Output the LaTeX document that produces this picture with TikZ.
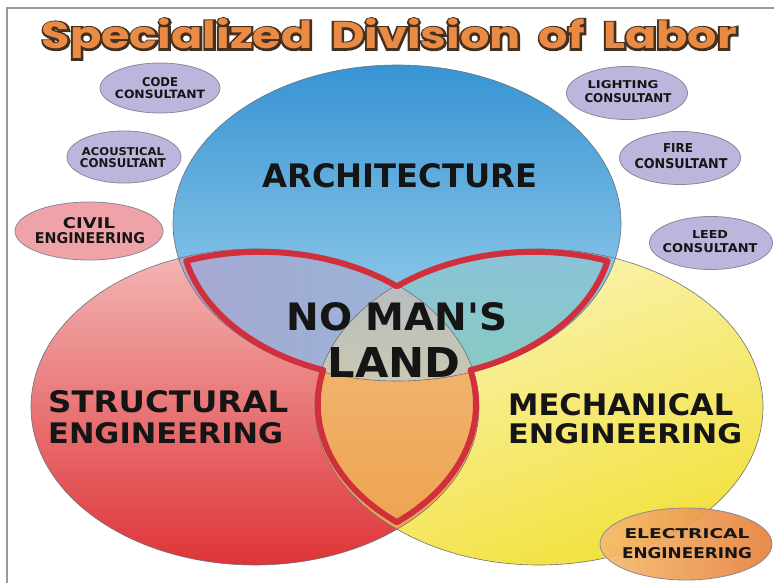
\documentclass[tikz,border=0pt]{standalone}
\usepackage{fontspec}
\usepackage{graphicx}
\usetikzlibrary{shapes.geometric}
\newfontfamily\lblfont{DejaVu Sans}
\newfontfamily\titlefont{Poppins}
\newfontfamily\titleoutline{Poppins}[BoldFeatures={FakeBold=10}]
\definecolor{framegray}{HTML}{9A9A9A}
\definecolor{bluetop}{HTML}{3794D3}
\definecolor{bluebot}{HTML}{A8D8F0}
\definecolor{redtop}{HTML}{F3B8B6}
\definecolor{redmid}{HTML}{EC8282}
\definecolor{redbot}{HTML}{DE3438}
\definecolor{yeltop}{HTML}{FBF4BC}
\definecolor{yelmid}{HTML}{F8EC84}
\definecolor{yelbot}{HTML}{F2E13C}
\definecolor{lavl}{HTML}{A8A8D3}
\definecolor{lavr}{HTML}{94B8D6}
\definecolor{tealt}{HTML}{8CC1DB}
\definecolor{tealb}{HTML}{86CCBF}
\definecolor{orat}{HTML}{F2BC7E}
\definecolor{orab}{HTML}{EEA24E}
\definecolor{grayt}{HTML}{B6BEC2}
\definecolor{grayb}{HTML}{CCC8B0}
\definecolor{edgegray}{HTML}{6E7078}
\definecolor{nmlred}{HTML}{D12F3C}
\definecolor{consfill}{HTML}{BDB5DC}
\definecolor{consdraw}{HTML}{8C8698}
\definecolor{civilfill}{HTML}{EFA3A8}
\definecolor{elecl}{HTML}{F4BC6E}
\definecolor{elecr}{HTML}{E7813E}
\definecolor{tbrown}{HTML}{45301E}
\definecolor{torange}{HTML}{E98B45}
\definecolor{lblblack}{HTML}{151515}
\newcommand\fitl[3]{\resizebox{#1pt}{#2pt}{\lblfont\bfseries #3}}
\newcommand\titlewords{Specialized\hspace{0.4em}Division\hspace{0.4em}of\hspace{0.4em}Labor}
\newcommand\outlinetitle{\leavevmode
\rlap{\color{tbrown}\titleoutline\bfseries\titlewords}%
{\color{torange}\titlefont\bfseries\titlewords}}
\tikzset{
  bigell/.style={x radius=224pt, y radius=158pt},
  edge/.style={draw=edgegray, line width=0.6pt},
  consult/.style={ellipse, draw=consdraw, fill=consfill, line width=0.8pt, inner sep=0pt},
  lbl/.style={inner sep=0pt, anchor=north, text=lblblack},
  lblw/.style={inner sep=0pt, anchor=north west, text=lblblack},
}
\begin{document}
\begin{tikzpicture}[x=1pt,y=-1pt]
\useasboundingbox (0,0) rectangle (774,583);
\fill[white] (0,0) rectangle (774,583);
\draw[framegray, line width=1.2pt] (7,583) -- (7,8) -- (774,8);

% base circles
\shade[top color=redtop, middle color=redmid, bottom color=redbot] (255,407) ellipse [bigell];
\shade[top color=yeltop, middle color=yelmid, bottom color=yelbot, shading angle=20] (539,407) ellipse [bigell];
\shade[top color=bluetop, bottom color=bluebot] (397,223) ellipse [bigell];

% pairwise overlaps
\begin{scope}
  \clip (397,223) ellipse [bigell];
  \clip (255,407) ellipse [bigell];
  \shade[left color=lavl, right color=lavr] (170,240) rectangle (480,390);
\end{scope}
\begin{scope}
  \clip (397,223) ellipse [bigell];
  \clip (539,407) ellipse [bigell];
  \shade[top color=tealt, bottom color=tealb] (315,240) rectangle (625,390);
\end{scope}
\begin{scope}
  \clip (255,407) ellipse [bigell];
  \clip (539,407) ellipse [bigell];
  \shade[top color=orat, bottom color=orab] (310,280) rectangle (490,535);
\end{scope}
\begin{scope}
  \clip (397,223) ellipse [bigell];
  \clip (255,407) ellipse [bigell];
  \clip (539,407) ellipse [bigell];
  \shade[top color=grayt, bottom color=grayb] (310,280) rectangle (490,390);
\end{scope}

% thin outlines
\draw[edge] (255,407) ellipse [bigell];
\draw[edge] (539,407) ellipse [bigell];
\draw[edge] (397,223) ellipse [bigell];

% no man's land outline
\begin{scope}[shift={(397,330)}, scale=0.965, shift={(-397,-330)}]
\draw[nmlred, line width=6pt, line join=round]
  (178.7,258.4)
  arc[start angle=109.9, end angle=50.66, bigell]
  arc[start angle=129.34, end angle=70.09, bigell]
  arc[start angle=-12.95, end angle=-70.09, bigell]
  arc[start angle=12.95, end angle=-50.66, bigell]
  arc[start angle=230.66, end angle=167.05, bigell]
  arc[start angle=250.09, end angle=192.95, bigell]
  -- cycle;
\end{scope}

% title
\node[inner sep=0pt, anchor=base] (title) at (389.5,49) {\resizebox{695pt}{30pt}{\outlinetitle}};

% small ellipses
\node[consult, minimum width=120pt, minimum height=50pt] (code) at (160,88) {};
\node[consult, minimum width=114pt, minimum height=52pt] (acou) at (124,157) {};
\node[consult, fill=civilfill, minimum width=148pt, minimum height=58pt] (civil) at (89,231) {};
\node[consult, minimum width=121pt, minimum height=53pt] (light) at (627,93) {};
\node[consult, minimum width=121pt, minimum height=53pt] (fire) at (680,158) {};
\node[consult, minimum width=123pt, minimum height=53pt] (leed) at (711,243) {};
\node[ellipse, draw=consdraw, line width=0.8pt, left color=elecl, right color=elecr, fill opacity=0.92, minimum width=172pt, minimum height=72pt, inner sep=0pt] (elec) at (686,544) {};

% small labels
\node[lbl] (code1) at (160,77) {\fitl{36}{9}{CODE}};
\node[lbl] (code2) at (160,90) {\fitl{90}{8.5}{CONSULTANT}};
\node[lbl] (acou1) at (123,147) {\fitl{82}{8}{ACOUSTICAL}};
\node[lbl] (acou2) at (123,158) {\fitl{86}{9}{CONSULTANT}};
\node[lbl] (civil1) at (89,217) {\fitl{52}{11}{CIVIL}};
\node[lbl] (civil2) at (90,232) {\fitl{110}{11}{ENGINEERING}};
\node[lbl] (light1) at (623,80) {\fitl{71}{8}{LIGHTING}};
\node[lbl] (light2) at (628,93) {\fitl{87}{9}{CONSULTANT}};
\node[lbl] (fire1) at (678,143) {\fitl{30}{9}{FIRE}};
\node[lbl] (fire2) at (681,158) {\fitl{93}{10}{CONSULTANT}};
\node[lbl] (leed1) at (710,230) {\fitl{36}{8}{LEED}};
\node[lbl] (leed2) at (710,243) {\fitl{95}{9}{CONSULTANT}};
\node[lbl] (elec1) at (687,528) {\fitl{125}{10}{ELECTRICAL}};
\node[lbl] (elec2) at (687,547) {\fitl{130}{11}{ENGINEERING}};

% main labels
\node[lbl] (arch) at (400,163) {\fitl{275}{24}{ARCHITECTURE}};
\node[lbl] (nml1) at (397,302) {\fitl{221}{28}{NO MAN'S}};
\node[lbl] (nml2) at (394,347) {\fitl{133}{30}{LAND}};
\node[lblw] (str1) at (48,390) {\fitl{240}{22}{STRUCTURAL}};
\node[lblw] (str2) at (48,422) {\fitl{235}{21}{ENGINEERING}};
\node[lblw] (mech1) at (508,393) {\fitl{225}{22}{MECHANICAL}};
\node[lblw] (mech2) at (508,423) {\fitl{234}{20}{ENGINEERING}};
\end{tikzpicture}
\end{document}
